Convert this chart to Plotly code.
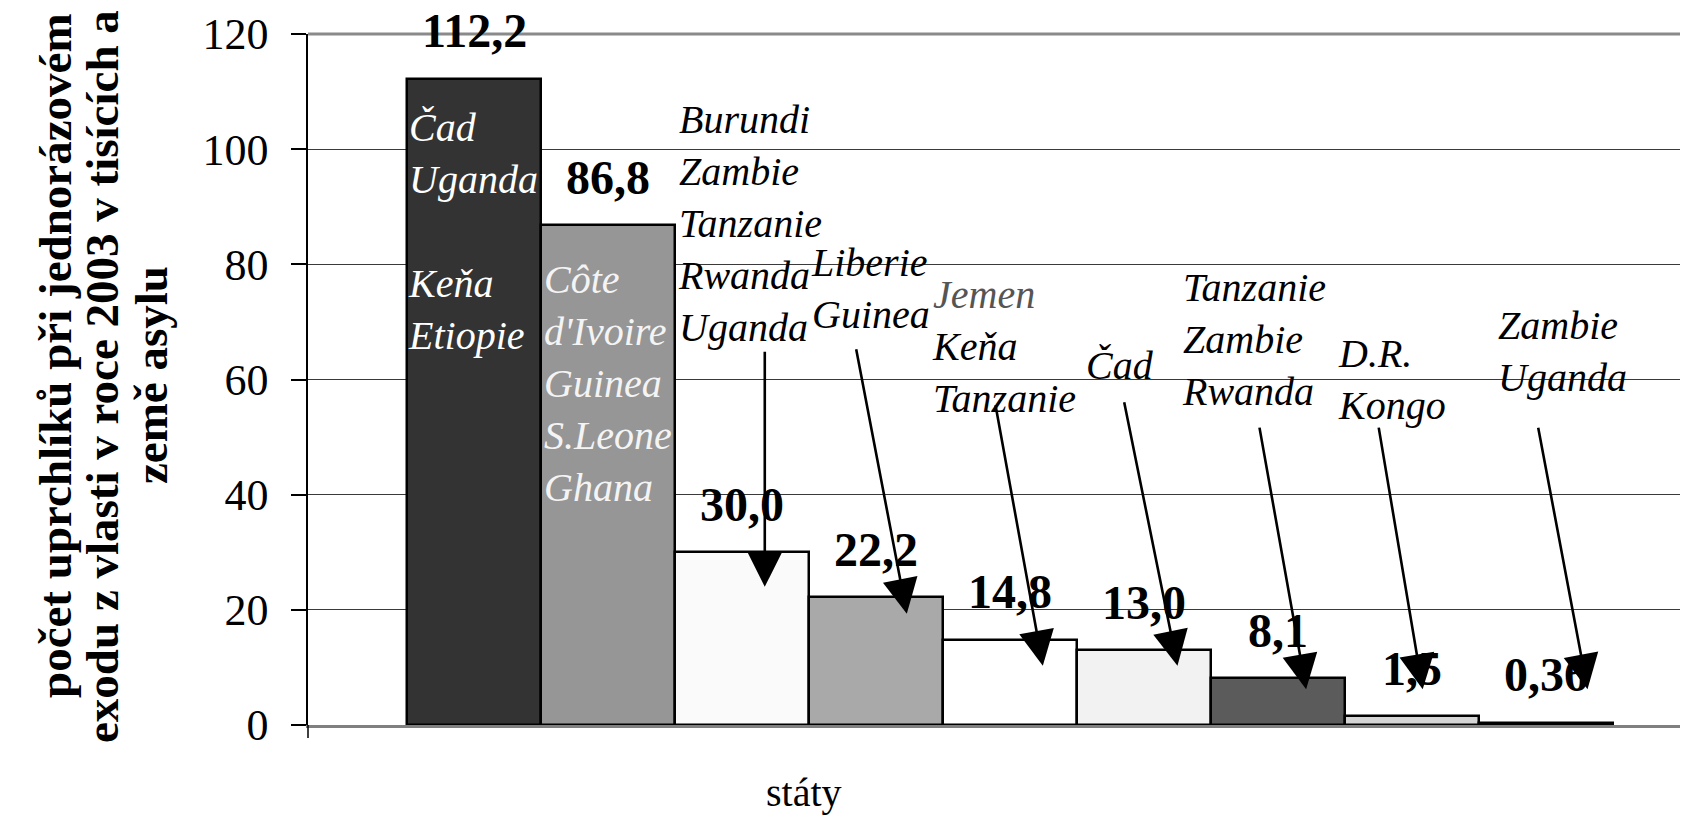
import plotly.graph_objects as go

# ---- data ----
values = [112.2, 86.8, 30.0, 22.2, 14.8, 13.0, 8.1, 1.5, 0.36]
value_labels = ["112,2", "86,8", "30,0", "22,2", "14,8", "13,0", "8,1", "1,5", "0,36"]
asylum_countries = [
    ["Čad", "Uganda", "", "Keňa", "Etiopie"],
    ["Côte", "d'Ivoire", "Guinea", "S.Leone", "Ghana"],
    ["Burundi", "Zambie", "Tanzanie", "Rwanda", "Uganda"],
    ["Liberie", "Guinea"],
    ["Jemen", "Keňa", "Tanzanie"],
    ["Čad"],
    ["Tanzanie", "Zambie", "Rwanda"],
    ["D.R.", "Kongo"],
    ["Zambie", "Uganda"],
]
y_ticks = [0, 20, 40, 60, 80, 100, 120]
y_title_lines = ["počet uprchlíků při jednorázovém",
                 "exodu z vlasti v roce 2003 v tisících a",
                 "země asylu"]
x_title = "státy"

# ---- styles / layout positions ----
bar_colors = ["#333333", "#969696", "#fafafa", "#a9a9a9", "#ffffff",
              "#f2f2f2", "#5b5b5b", "#d4d4d4", "#111111"]
# text block placement (x left edge, y center) in axis units
text_pos = [(-0.51, 85.7), (0.51, 59.3), (1.51, 87.1), (2.50, 75.8), (3.40, 65.8),
            (4.55, 62.5), (5.27, 67.0), (6.43, 60.0), (7.63, 64.8)]
text_color = ["white", "#f4f4f4", "black", "black", "black", "black", "black", "black", "black"]
# arrows: (tip x, tip y, tail x, tail y) ; None for no arrow
arrows = [None, None,
          (2.17, 24.0, 2.17, 65.1),
          (3.23, 19.3, 2.85, 65.5),
          (4.245, 10.3, 3.89, 55.8),
          (5.25, 10.3, 4.85, 56.3),
          (6.21, 6.2, 5.86, 51.9),
          (7.08, 6.2, 6.75, 51.9),
          (8.31, 6.2, 7.94, 51.9)]

SERIF = "Liberation Serif"
OFF = 8                      # default page body margin
WIN_W, WIN_H = 1688, 818
W, H = WIN_W - OFF, WIN_H - OFF
# plot area in window pixels
P_LEFT, P_TOP, P_BOTTOM, P_RIGHT = 308, 34, 725, 1688
ML = P_LEFT - OFF
MT = P_TOP - OFF
MR = 0
MB = H - (P_BOTTOM - OFF)
PW, PH = W - ML - MR, H - MT - MB


def px_to_paper(px, py):
    """window pixel -> paper coords"""
    return (px - P_LEFT) / PW, (P_BOTTOM - py) / PH


fig = go.Figure()
fig.add_trace(go.Bar(
    x=list(range(len(values))), y=values, width=1.0,
    marker=dict(color=bar_colors, line=dict(color="black", width=2.5)),
    hoverinfo="skip",
))

ann = []
# value labels
for i, (v, lab) in enumerate(zip(values, value_labels)):
    ann.append(dict(x=i, y=v, xref="x", yref="y", text=lab, showarrow=False,
                    yanchor="middle", xanchor="center", yshift=48,
                    font=dict(family=SERIF, size=48, color="black", weight="bold")))
# country texts
for i, lines in enumerate(asylum_countries):
    parts = []
    for ln in lines:
        if ln == "":
            parts.append("&nbsp;")
        elif ln == "Jemen":
            parts.append('<span style="color:#555555">Jemen</span>')
        else:
            parts.append(ln)
    x0, yc = text_pos[i]
    ann.append(dict(x=x0, y=yc, xref="x", yref="y", text="<br>".join(parts),
                    showarrow=False, xanchor="left", yanchor="middle", align="left",
                    font=dict(family=SERIF, size=40, color=text_color[i], style="italic")))
# arrows
for a in arrows:
    if a is None:
        continue
    tx, ty, sx, sy = a
    ann.append(dict(x=tx, y=ty, ax=sx, ay=sy, xref="x", yref="y", axref="x", ayref="y",
                    text="", showarrow=True, arrowhead=2, arrowsize=2.7,
                    arrowwidth=2.6, arrowcolor="black"))
# y-axis title lines (window pixel centres)
title_x = [55, 102, 151]
title_y = [356, 377, 375]
for ln, px, py in zip(y_title_lines, title_x, title_y):
    xp, yp = px_to_paper(px, py)
    ann.append(dict(x=xp, y=yp, xref="paper", yref="paper",
                    text=ln, showarrow=False, textangle=-90, xanchor="center", yanchor="middle",
                    font=dict(family=SERIF, size=47, color="black", weight="bold")))
# x-axis title
xp, yp = px_to_paper(804, 792)
ann.append(dict(x=xp, y=yp, xref="paper", yref="paper",
                text=x_title, showarrow=False, xanchor="center", yanchor="middle",
                font=dict(family=SERIF, size=40, color="black")))

shapes = [
    dict(type="line", xref="paper", yref="paper", x0=0, x1=1, y0=1, y1=1,
         line=dict(color="#8a8a8a", width=3)),
    dict(type="line", xref="paper", yref="paper", x0=0, x1=0, y0=0, y1=-13 / PH,
         line=dict(color="black", width=1.5)),
]

fig.update_layout(
    width=W, height=H, autosize=False,
    margin=dict(l=ML, r=MR, t=MT, b=MB, pad=0),
    plot_bgcolor="white", paper_bgcolor="white",
    showlegend=False, bargap=0,
    annotations=ann, shapes=shapes,
    xaxis=dict(range=[-1.239, 9.06], showticklabels=False, ticks="", showgrid=False,
               zeroline=False, showline=True, linecolor="#808080", linewidth=3),
    yaxis=dict(range=[0, 120], tickvals=y_ticks, ticks="outside", ticklen=15,
               tickcolor="black", tickwidth=1.5, showline=True, linecolor="black",
               linewidth=1.5, showgrid=True, gridcolor="#3a3a3a", gridwidth=1.2,
               zeroline=False, ticklabelstandoff=14,
               tickfont=dict(family=SERIF, size=44, color="black")),
)

fig.write_html("out.html")
